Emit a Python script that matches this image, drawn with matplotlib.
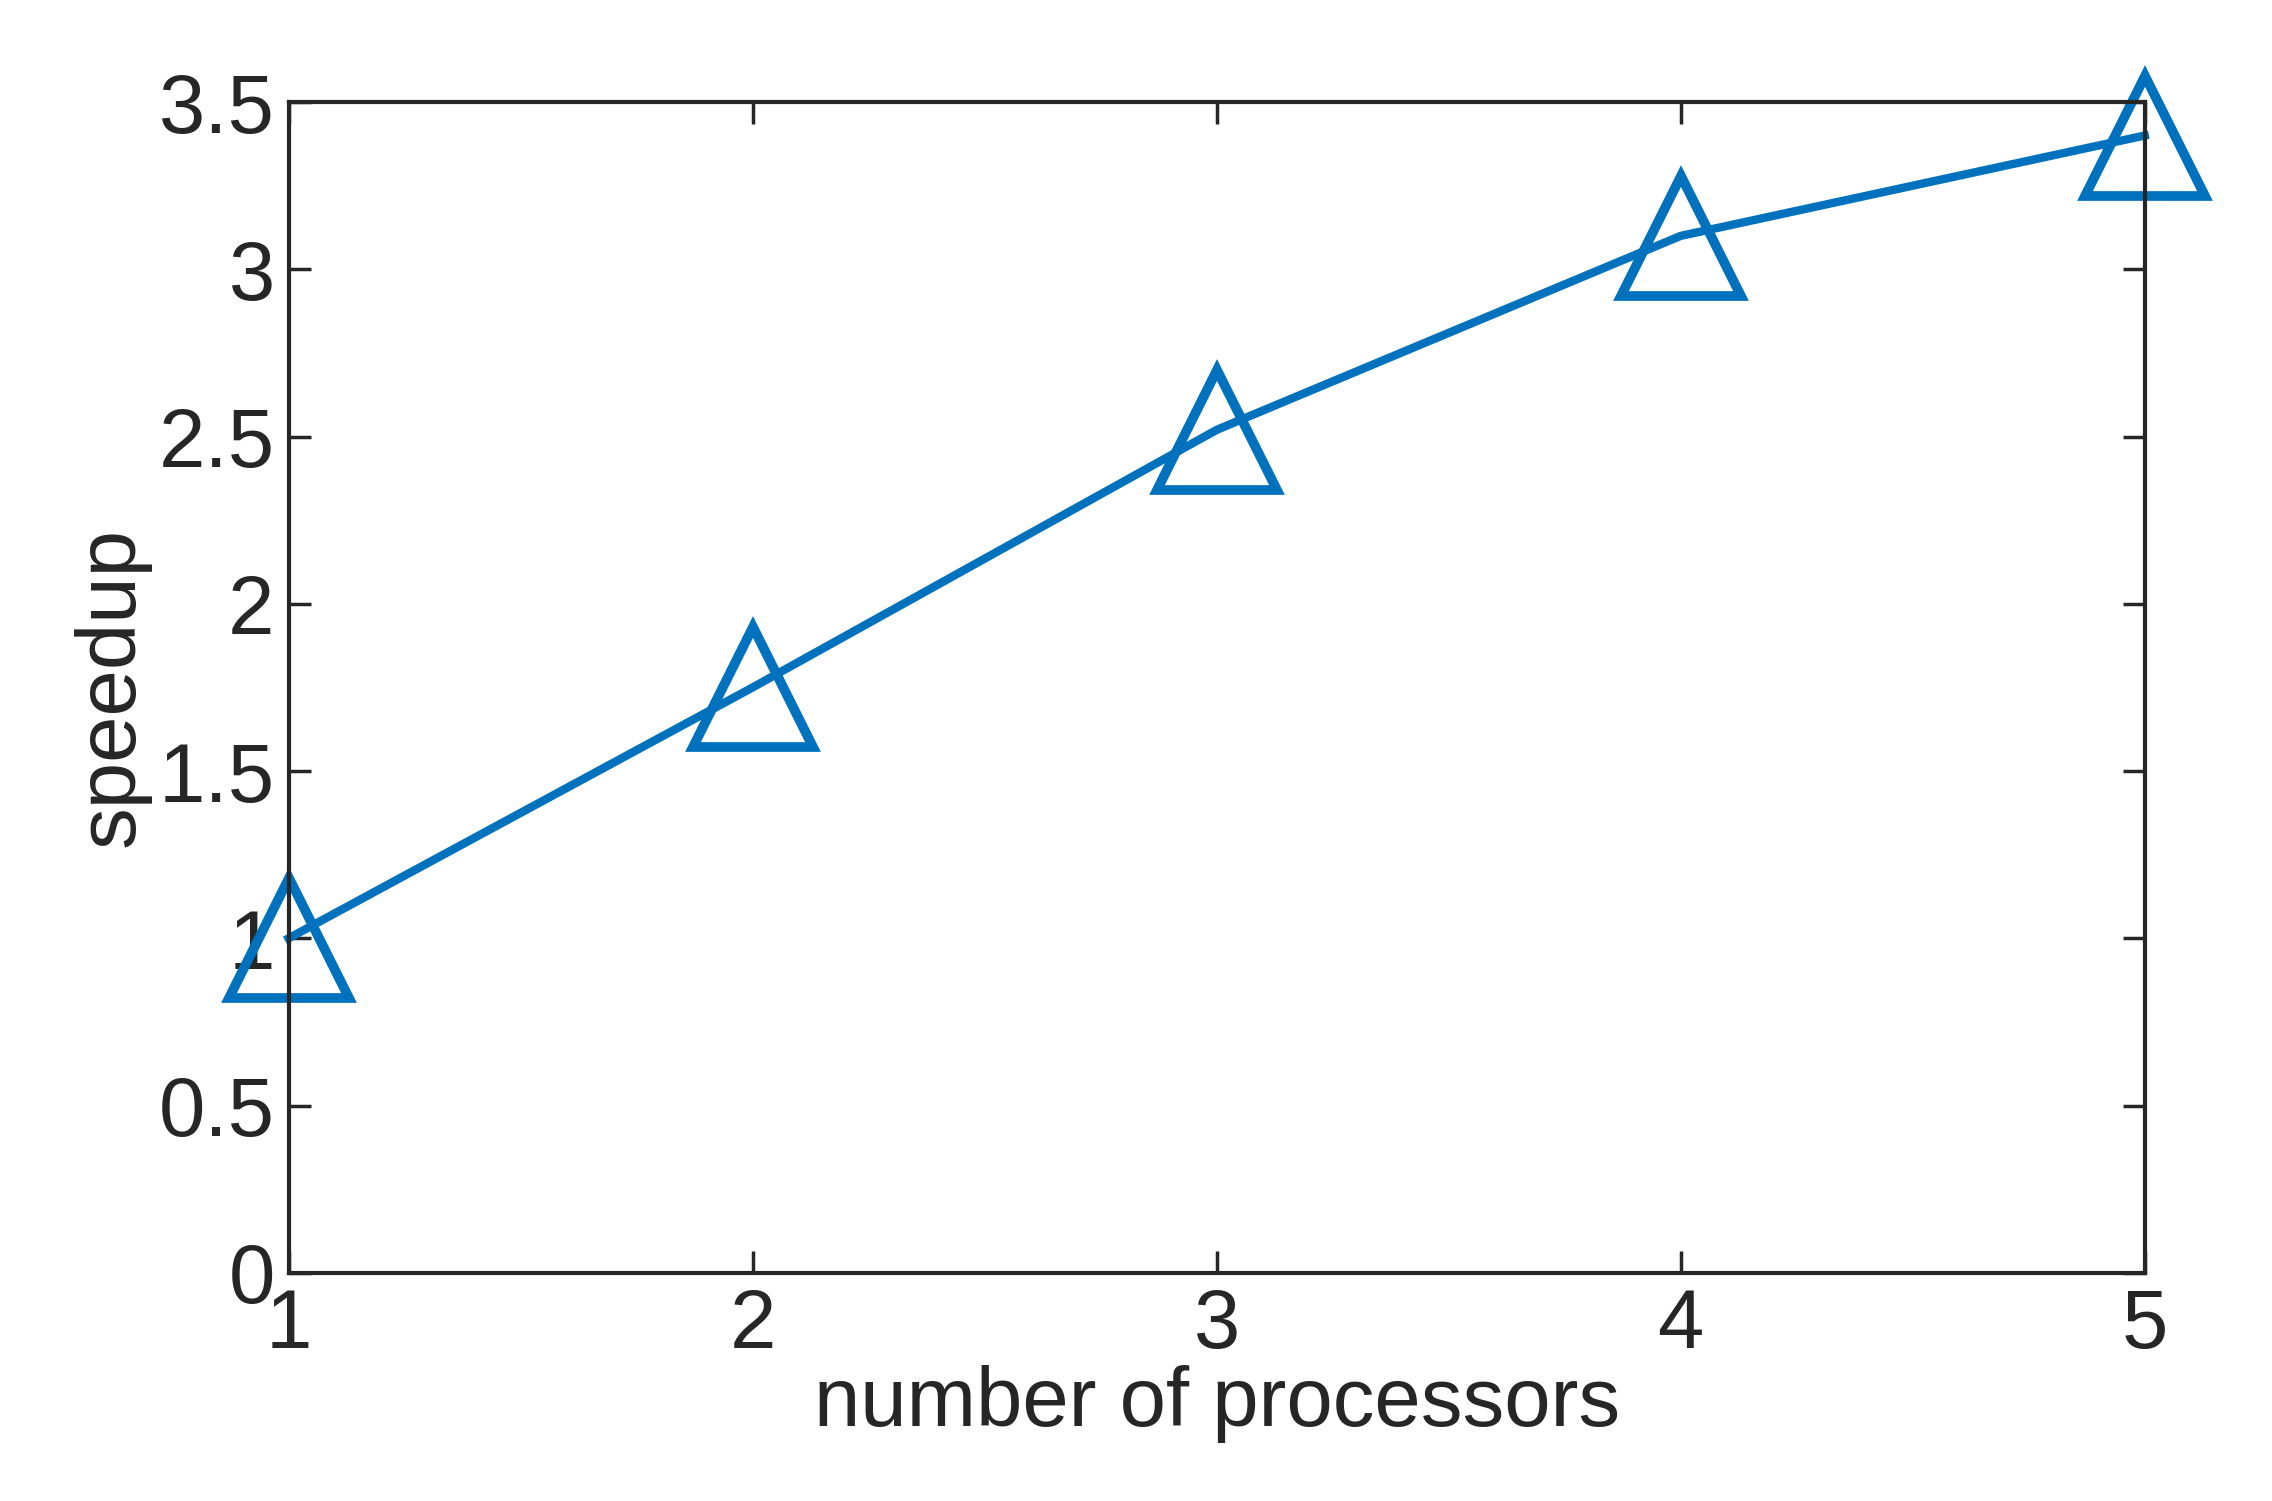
import matplotlib
matplotlib.use("Agg")
import matplotlib.pyplot as plt

processors = [1, 2, 3, 4, 5]
speedup = [1.0, 1.75, 2.52, 3.1, 3.4]
yticks = [0, 0.5, 1, 1.5, 2, 2.5, 3, 3.5]
yticklabels = ["0", "0.5", "1", "1.5", "2", "2.5", "3", "3.5"]

plt.rcParams['font.family'] = ['Liberation Sans', 'DejaVu Sans']
fig = plt.figure(figsize=(22.72, 15.01), dpi=100)
ax = fig.add_axes([0.127, 0.152, 0.817, 0.78])
c = '#0072BD'
ax.plot(processors, speedup, color=c, lw=6, marker='^', markersize=86,
        markerfacecolor='none', markeredgecolor=c, markeredgewidth=7, clip_on=False)
ax.set_xlim(1, 5)
ax.set_ylim(0, 3.5)
ax.set_xticks(processors)
ax.set_yticks(yticks)
ax.set_yticklabels(yticklabels)
ax.tick_params(direction='in', length=16, width=2.5, labelsize=60, colors='#262626',
               top=True, right=True, pad=10)
for s in ax.spines.values():
    s.set_linewidth(3)
    s.set_color('#262626')
ax.set_xlabel('number of processors', fontsize=60, color='#262626', labelpad=0)
ax.set_ylabel('speedup', fontsize=60, color='#262626', labelpad=6)
fig.savefig('out.png', dpi=100, facecolor='white')
